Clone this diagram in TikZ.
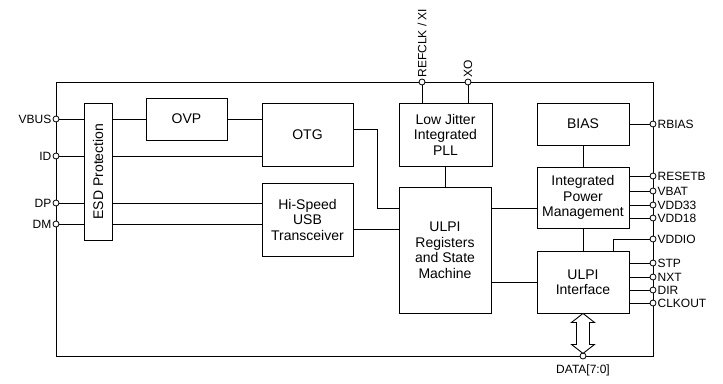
\documentclass[tikz,border=0pt]{standalone}
\usepackage{fontspec}
\setmainfont{Liberation Sans}
\usepackage{graphicx}
\usepackage{tikz}

\begin{document}
\begin{tikzpicture}[
    x=1pt, y=-1pt,
    block/.style={draw, fill=white, line width=0.9pt, align=center, inner sep=0pt, font=\fontsize{14}{15.5}\selectfont},
    pin/.style={circle, draw, fill=white, line width=0.8pt, minimum size=6pt, inner sep=0pt},
    pintext/.style={inner sep=1pt, font=\fontsize{12}{14}\selectfont},
    plain/.style={line width=0.9pt}
]
    \useasboundingbox (0,0) rectangle (723,383);
    \draw[plain] (56,82) rectangle (653,356);

    \node[block, minimum width=28pt, minimum height=137pt] (esd) at (98,171.5) {\rotatebox{90}{ESD Protection}};
    \node[block, minimum width=81pt, minimum height=42pt] (ovp) at (186.5,119) {OVP};
    \node[block, minimum width=91pt, minimum height=63pt] (otg) at (307.5,134.5) {OTG};
    \node[block, minimum width=91pt, minimum height=73pt] (hs) at (307.5,219.5) {Hi-Speed\\USB\\Transceiver};
    \node[block, minimum width=93pt, minimum height=63pt] (pll) at (445.5,134.5) {Low Jitter\\Integrated\\PLL};
    \node[block, minimum width=92pt, minimum height=126pt] (regs) at (445,250) {ULPI\\Registers\\and State\\Machine};
    \node[block, minimum width=92pt, minimum height=42pt] (bias) at (583,124) {BIAS};
    \node[block, minimum width=92pt, minimum height=61pt] (ipm) at (583,197.5) {Integrated\\Power\\Management};
    \node[block, minimum width=92pt, minimum height=62pt] (uif) at (583,282) {ULPI\\Interface};

    \node[pin] (vbus) at (56,119) {};
    \node[pin] (id) at (56,156) {};
    \node[pin] (dp) at (56,203) {};
    \node[pin] (dm) at (56,224) {};
    \node[pin] (refclk) at (422,82) {};
    \node[pin] (xo) at (468,82) {};
    \node[pin] (rbias) at (653,124) {};
    \node[pin] (resetb) at (653,176) {};
    \node[pin] (vbat) at (653,191) {};
    \node[pin] (vdd33) at (653,205) {};
    \node[pin] (vdd18) at (653,218) {};
    \node[pin] (vddio) at (653,239) {};
    \node[pin] (stp) at (653,263) {};
    \node[pin] (nxt) at (653,277) {};
    \node[pin] (dir) at (653,290) {};
    \node[pin] (clkout) at (653,303) {};
    \node[pin] (data) at (583,356) {};

    \node[pintext, anchor=east] (vbuslbl) at (vbus.west) {VBUS};
    \node[pintext, anchor=east] (idlbl) at (id.west) {ID};
    \node[pintext, anchor=east] (dplbl) at (dp.west) {DP};
    \node[pintext, anchor=east] (dmlbl) at (dm.west) {DM};
    \node[pintext, anchor=west, rotate=90] (refclklbl) at (refclk.north) {REFCLK / XI};
    \node[pintext, anchor=west, rotate=90] (xolbl) at (xo.north) {XO};
    \node[pintext, anchor=west] (rbiaslbl) at (rbias.east) {RBIAS};
    \node[pintext, anchor=west] (resetblbl) at (resetb.east) {RESETB};
    \node[pintext, anchor=west] (vbatlbl) at (vbat.east) {VBAT};
    \node[pintext, anchor=west] (vdd33lbl) at (vdd33.east) {VDD33};
    \node[pintext, anchor=west] (vdd18lbl) at (vdd18.east) {VDD18};
    \node[pintext, anchor=west] (vddiolbl) at (vddio.east) {VDDIO};
    \node[pintext, anchor=west] (stplbl) at (stp.east) {STP};
    \node[pintext, anchor=west] (nxtlbl) at (nxt.east) {NXT};
    \node[pintext, anchor=west] (dirlbl) at (dir.east) {DIR};
    \node[pintext, anchor=west] (clkoutlbl) at (clkout.east) {CLKOUT};
    \node[pintext, anchor=north] (datalbl) at ([yshift=-4pt]data.south) {DATA[7:0]};

    \draw[plain] (vbus) -- (esd.west |- vbus);
    \draw[plain] (esd.east |- vbus) -- (ovp.west);
    \draw[plain] (ovp.east) -- (otg.west |- ovp.east);
    \draw[plain] (id) -- (esd.west |- id);
    \draw[plain] (esd.east |- id) -- (otg.west |- id);
    \draw[plain] (dp) -- (esd.west |- dp);
    \draw[plain] (esd.east |- dp) -- (hs.west |- dp);
    \draw[plain] (dm) -- (esd.west |- dm);
    \draw[plain] (esd.east |- dm) -- (hs.west |- dm);
    \draw[plain] ([yshift=5.5pt]otg.east) -- ++(24,0) |- ([yshift=42pt]regs.west);
    \draw[plain] ([yshift=-9.5pt]hs.east) -- ([yshift=21pt]regs.west);
    \draw[plain] (refclk) -- (refclk |- pll.north);
    \draw[plain] (xo) -- (xo |- pll.north);
    \draw[plain] (pll.south) -- (pll.south |- regs.north);
    \draw[plain] ([yshift=-10.5pt]ipm.west) -- ([yshift=42pt]regs.east);
    \draw[plain] (uif.west) -- (regs.east |- uif.west);
    \draw[plain] (bias) -- (ipm);
    \draw[plain] (ipm) -- (uif);
    \draw[plain] (bias.east) -- (rbias);
    \draw[plain] (resetb) -- (ipm.east |- resetb);
    \draw[plain] (vbat) -- (ipm.east |- vbat);
    \draw[plain] (vdd33) -- (ipm.east |- vdd33);
    \draw[plain] (vdd18) -- (ipm.east |- vdd18);
    \draw[plain] (vddio) -| ([xshift=30pt]uif.north);
    \draw[plain] (stp) -- (uif.east |- stp);
    \draw[plain] (nxt) -- (uif.east |- nxt);
    \draw[plain] (dir) -- (uif.east |- dir);
    \draw[plain] (clkout) -- (uif.east |- clkout);
    \draw[plain, fill=white] (uif.south) -- ++(11.5,9) -- ++(-5,0) -- ++(0,22) -- ++(5,0) -- ++(-11.5,9)
        -- ++(-11.5,-9) -- ++(5,0) -- ++(0,-22) -- ++(-5,0) -- cycle;
\end{tikzpicture}
\end{document}
